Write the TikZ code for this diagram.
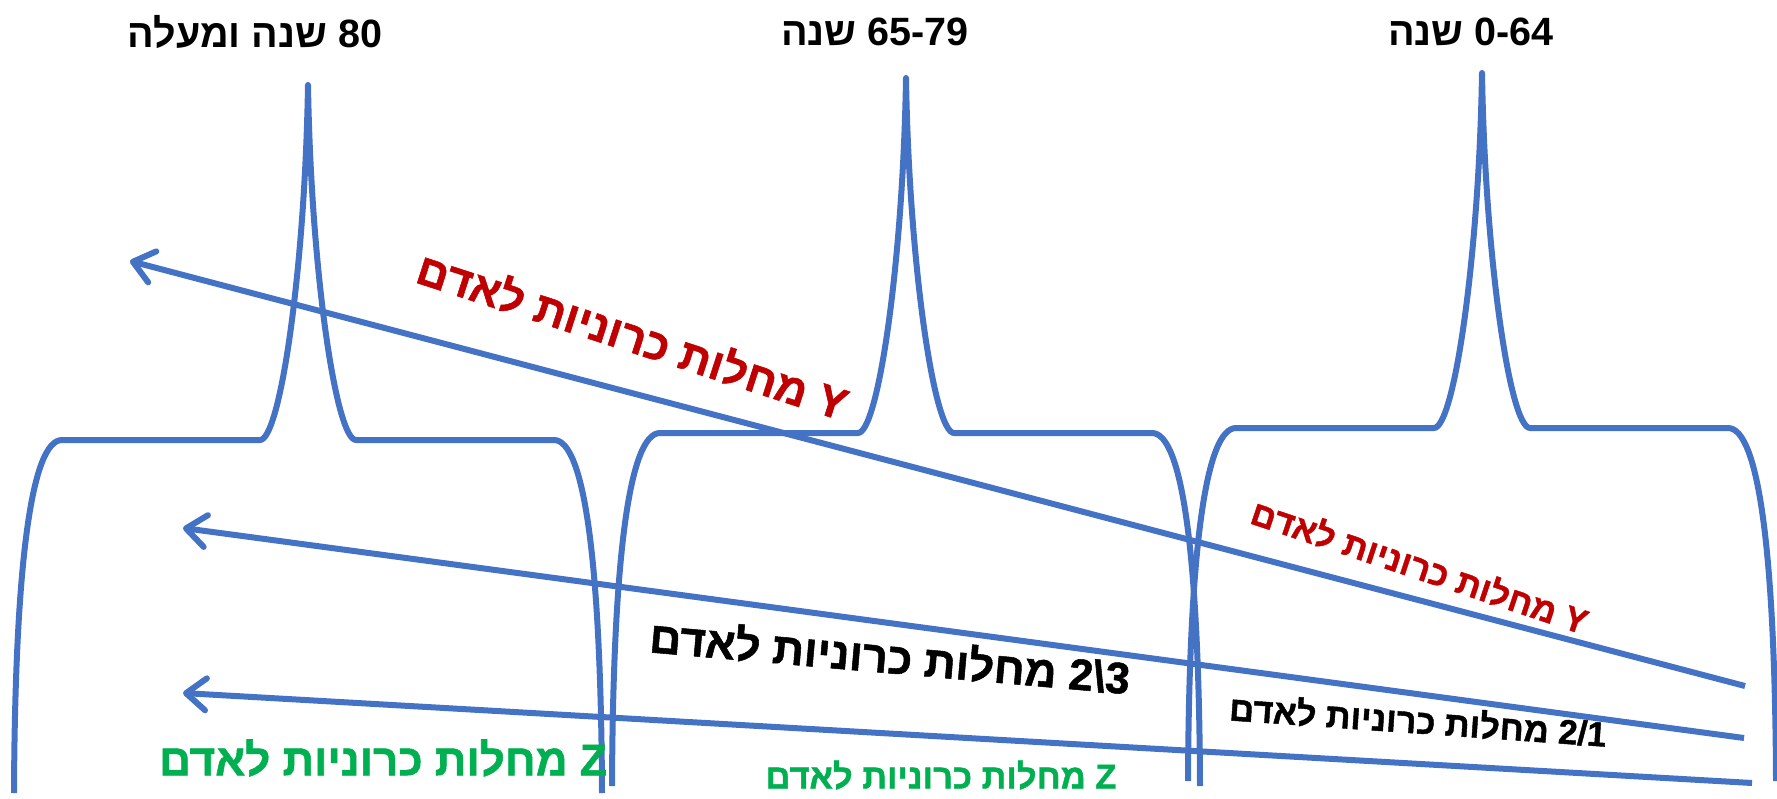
\documentclass[tikz,border=0pt]{standalone}
\usepackage{fontspec}
\usepackage{tikz}
\usetikzlibrary{arrows.meta}
\TeXXeTstate=1
\newfontfamily\hebfont[Script=Hebrew]{Liberation Sans}
\newfontfamily\hebheavy[Script=Hebrew, BoldFeatures={FakeBold=1.2}]{Liberation Sans}
\definecolor{braceblue}{HTML}{4472C4}
\definecolor{yred}{HTML}{C00000}
\definecolor{zgreen}{HTML}{00B050}

\tikzset{
    agebrace/.pic={
        \draw[line width=6pt, braceblue, line join=round]
            (-294,353) .. controls (-293,120) and (-276,0) .. (-246,0) -- (-48,0)
            .. controls (-28,0) and (-3,-170) .. (0,-355)
            .. controls (3,-170) and (28,0) .. (48,0) -- (246,0)
            .. controls (276,0) and (293,120) .. (294,353);
    }
}

\begin{document}
\begin{tikzpicture}[x=1pt, y=-1pt,
    title/.style={font=\hebfont\bfseries\fontsize{39.5}{45}\selectfont},
    bigtxt/.style={font=\hebheavy\bfseries\fontsize{44}{50}\selectfont, inner sep=0pt},
    smalltxt/.style={font=\hebheavy\bfseries\fontsize{34.5}{40}\selectfont, inner sep=0pt},
    arr/.style={line width=6pt, braceblue, -{Straight Barb[length=20pt, width=32pt, round]}}]
    \useasboundingbox (0,0) rectangle (1777,798);

    \node[title](old)   at (255,32)  {\beginR\beginL 80\endL{} שנה ומעלה\endR};
    \node[title](mid)   at (875,32)  {\beginR\beginL 65-79\endL{} שנה\endR};
    \node[title](young) at (1471,32) {\beginR\beginL 0-64\endL{} שנה\endR};

    \pic at (308,440) {agebrace};
    \pic at (906,433) {agebrace};
    \pic at (1482,428) {agebrace};

    \coordinate (ytail) at (1745,686);
    \coordinate (yhead) at (130,261);
    \coordinate (ttail) at (1744,738);
    \coordinate (thead) at (183,528);
    \coordinate (ztail) at (1752,783);
    \coordinate (zhead) at (183,693);
    \draw[arr] (ytail) -- (yhead);
    \draw[arr] (ttail) -- (thead);
    \draw[arr] (ztail) -- (zhead);

    \node[bigtxt, yred, rotate=-18](ybig)     at (633,335)  {\beginR Y מחלות כרוניות לאדם\endR};
    \node[smalltxt, yred, rotate=-18.5](ysmall) at (1420,566) {\beginR Y מחלות כרוניות לאדם\endR};
    \node[bigtxt, rotate=-5](thirds)         at (890,656)  {\beginR 3\textbackslash 2 מחלות כרוניות לאדם\endR};
    \node[smalltxt, rotate=-4](half)         at (1418,720) {\beginR\beginL 2/1\endL{} מחלות כרוניות לאדם\endR};
    \node[bigtxt, zgreen](zbig)              at (383,758)  {\beginR Z מחלות כרוניות לאדם\endR};
    \node[smalltxt, zgreen](zsmall)          at (941,775)  {\beginR Z מחלות כרוניות לאדם\endR};
\end{tikzpicture}
\end{document}
